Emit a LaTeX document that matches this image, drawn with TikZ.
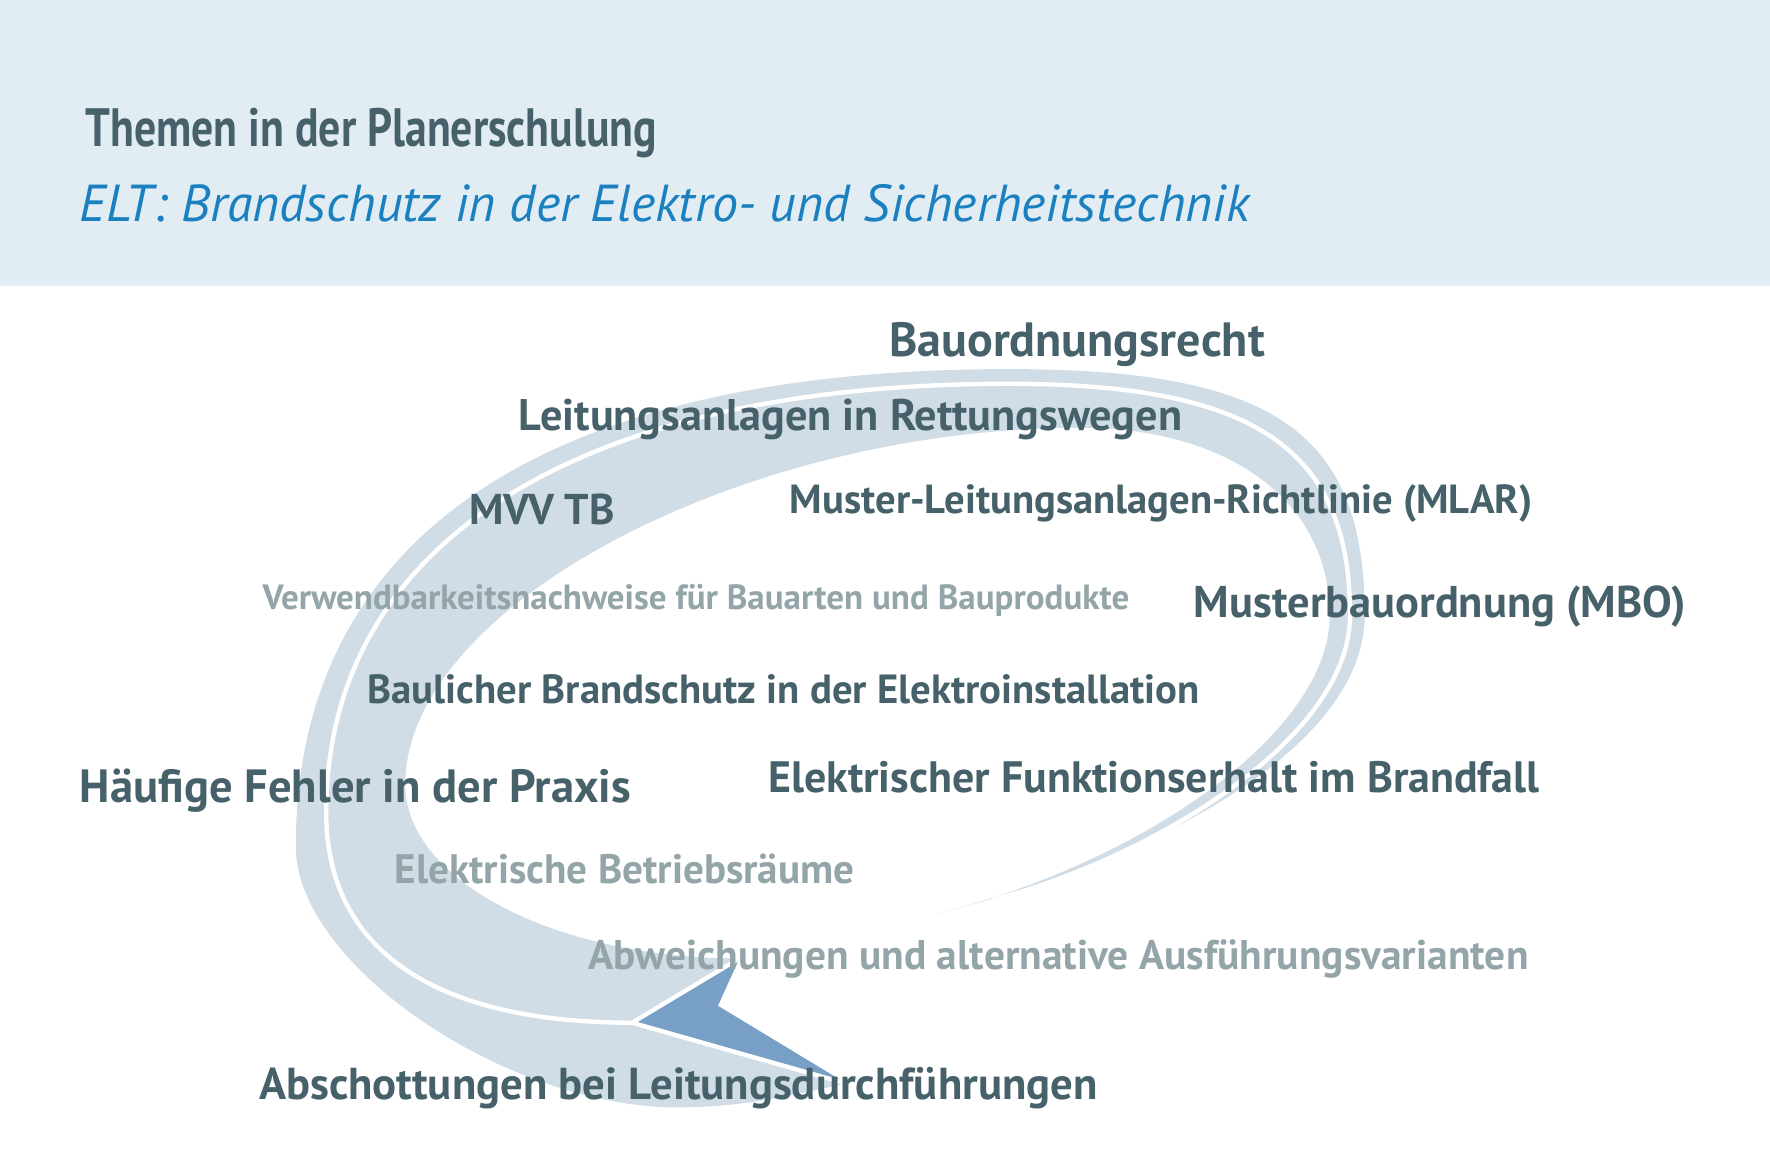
\documentclass[tikz,border=0pt]{standalone}
\usepackage{fontspec}
\setmainfont{PT Sans}
\newfontfamily\condfont{PT Sans}[FakeStretch=0.81]
\definecolor{headbg}{HTML}{E2ECF3}
\definecolor{darktxt}{HTML}{47616A}
\definecolor{lighttxt}{HTML}{93A5A8}
\definecolor{subblue}{HTML}{1A80BF}
\definecolor{swoosh}{HTML}{D0DDE6}
\definecolor{arrowblue}{HTML}{789FC5}

\begin{document}
\begin{tikzpicture}[x=0.01cm, y=-0.01cm,
  topic/.style={anchor=base west, inner sep=0pt, text=darktxt,
    font=\bfseries\fontsize{#1}{#1}\selectfont},
  minor/.style={topic=#1, text=lighttxt}]
  \useasboundingbox (0,0) rectangle (1568,1040);

  % header
  \fill[headbg] (0,0) rectangle (1568,253);
  \node[anchor=base west, inner sep=0pt, text=darktxt,
    font=\condfont\bfseries\fontsize{13.6}{14}\selectfont] (title) at (75,130)
    {Themen in der Planerschulung};
  \node[anchor=base west, inner sep=0pt, text=subblue,
    font=\itshape\fontsize{13.1}{14}\selectfont] (subtitle) at (70,196)
    {ELT: Brandschutz in der Elektro- und Sicherheitstechnik};

  % swoosh
  \coordinate (tail) at (828,810);
  \coordinate (tipL) at (560,906);
  \coordinate (tipT) at (655,849);
  \coordinate (tipB) at (750,960);
  \fill[swoosh] (tail)
    .. controls (1030,760) and (1209,660) .. (1209,545)
    .. controls (1209,380) and (1125,327) .. (893,327)
    .. controls (483,327) and (262,475) .. (262,750)
    .. controls (262,854) and (448,981) .. (600,981)
    .. controls (660,981) and (700,970) .. (tipB)
    -- (tipL) -- (tipT)
    .. controls (492,849) and (359,780) .. (359,695)
    .. controls (359,537) and (658,379) .. (957,379)
    .. controls (1090,379) and (1178,445) .. (1178,545)
    .. controls (1178,650) and (1010,765) .. (tail)
    -- cycle;
  \draw[white, line width=1.1pt] (880,797)
    .. controls (1020,760) and (1196,655) .. (1196,545)
    .. controls (1196,397) and (1111,340) .. (893,340)
    .. controls (513,340) and (289,480) .. (289,720)
    .. controls (289,841) and (384,906) .. (tipL);
  \fill[arrowblue] (tipL) -- (tipT) -- (636,891) -- (tipB) -- cycle;
  \draw[white, line width=1.1pt] (tipT) -- (tipL) -- (tipB);

  % topics
  \node[topic=12.1] (recht) at (787,316) {Bauordnungsrecht};
  \node[topic=11.15] (wege) at (459,381) {Leitungsanlagen in Rettungswegen};
  \node[topic=10.85] (mvv) at (415,465) {MVV TB};
  \node[topic=10.24] (mlar) at (699,455) {Muster-Leitungsanlagen-Richtlinie (MLAR)};
  \node[minor=8.82] (nachweis) at (232,540) {Verwendbarkeitsnachweise für Bauarten und Bauprodukte};
  \node[topic=11.2] (mbo) at (1057,547) {Musterbauordnung (MBO)};
  \node[topic=10.26] (baulich) at (325,623) {Baulicher Brandschutz in der Elektroinstallation};
  \node[topic=11.74] (fehler) at (70,711) {Häufige Fehler in der Praxis};
  \node[topic=11.07] (erhalt) at (680,702) {Elektrischer Funktionserhalt im Brandfall};
  \node[minor=10.36] (raeume) at (349,783) {Elektrische Betriebsräume};
  \node[minor=10.44] (abweich) at (521,859) {Abweichungen und alternative Ausführungsvarianten};
  \node[topic=11.27] (schott) at (229,974) {Abschottungen bei Leitungsdurchführungen};
\end{tikzpicture}
\end{document}
